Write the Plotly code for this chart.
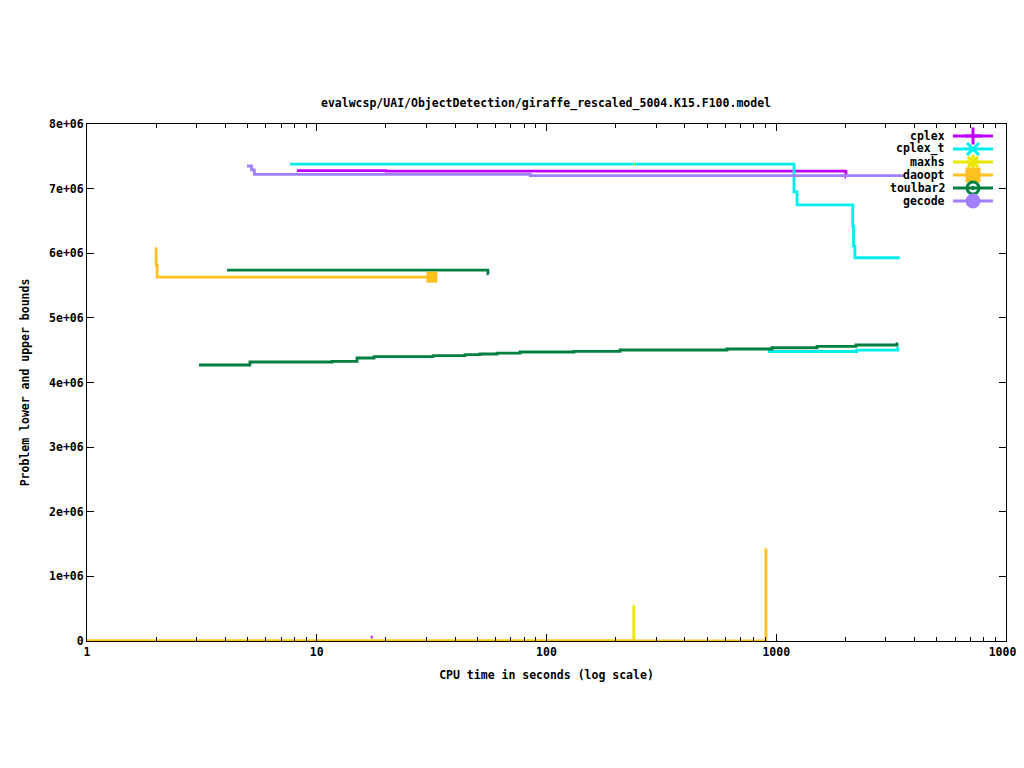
import plotly.graph_objects as go

# CPU time (s) / bound value pairs
cplex_ub_t = [8.2, 20.0, 2010, 2013]
cplex_ub_v = [7.28e6, 7.27e6, 7.18e6, 7.18e6]
cplex_lb_t = [17.2, 17.5]
cplex_lb_v = [6e4, 6e4]

cplex_t_ub_t = [7.65, 1195, 1232, 2153, 2170, 2200, 3450]
cplex_t_ub_v = [7.38e6, 6.95e6, 6.75e6, 6.42e6, 6.11e6, 5.93e6, 5.93e6]
cplex_t_lb_t = [920, 2240, 3380, 3420]
cplex_t_lb_v = [4.48e6, 4.50e6, 4.53e6, 4.53e6]

maxhs_ub_t = [238, 241]
maxhs_ub_v = [7.37e6, 7.37e6]
maxhs_lb_t = [1, 240, 241]
maxhs_lb_v = [0, 5.4e5, 5.4e5]

daoopt_ub_t = [1.98, 2.0, 2.02, 31.7]
daoopt_ub_v = [6.07e6, 5.82e6, 5.63e6, 5.63e6]
daoopt_lb_t = [1, 902, 905]
daoopt_lb_v = [0, 1.42e6, 1.42e6]

toulbar2_ub_t = [4.07, 55.6, 56]
toulbar2_ub_v = [5.74e6, 5.68e6, 5.68e6]
toulbar2_lb_t = [3.07, 5.12, 11.65, 14.97, 17.75, 32.1, 44.2, 51.3, 60.9, 76.7,
                 131.7, 208.9, 610, 958, 1505, 2223, 3354, 3400]
toulbar2_lb_v = [4.271e6, 4.317e6, 4.328e6, 4.379e6, 4.399e6, 4.415e6, 4.430e6,
                 4.441e6, 4.456e6, 4.472e6, 4.483e6, 4.503e6, 4.518e6, 4.538e6,
                 4.560e6, 4.580e6, 4.596e6, 4.596e6]

gecode_ub_t = [4.97, 5.2, 5.35, 85, 3630]
gecode_ub_v = [7.35e6, 7.29e6, 7.22e6, 7.20e6, 7.20e6]

solvers = ["cplex", "cplex_t", "maxhs", "daoopt", "toulbar2", "gecode"]
colors = ["#c000ff", "#00eeee", "#e8e800", "#ffc020", "#008040", "#a080ff"]
symbols = ["cross-thin-open", "x-thin-open", "asterisk-open", "square", "circle-open-dot", "circle"]

y_ticks = [0, 1e6, 2e6, 3e6, 4e6, 5e6, 6e6, 7e6, 8e6]
y_labels = ["0", "1e+06", "2e+06", "3e+06", "4e+06", "5e+06", "6e+06", "7e+06", "8e+06"]
x_ticks = [1, 10, 100, 1000, 10000]
x_labels = ["1", "10", "100", "1000", "10000"]

series = {
    "cplex": [(cplex_ub_t, cplex_ub_v), (cplex_lb_t, cplex_lb_v)],
    "cplex_t": [(cplex_t_ub_t, cplex_t_ub_v), (cplex_t_lb_t, cplex_t_lb_v)],
    "maxhs": [(maxhs_ub_t, maxhs_ub_v), (maxhs_lb_t, maxhs_lb_v)],
    "daoopt": [(daoopt_ub_t, daoopt_ub_v), (daoopt_lb_t, daoopt_lb_v)],
    "toulbar2": [(toulbar2_ub_t, toulbar2_ub_v), (toulbar2_lb_t, toulbar2_lb_v)],
    "gecode": [(gecode_ub_t, gecode_ub_v)],
}

FONT = dict(family="DejaVu Sans Mono", size=11.5, color="black", weight="bold")

# plot area in figure pixels (page has an 8px body margin)
L, R, T, B = 79, 998, 116, 633
PW, PH = R - L, B - T

fig = go.Figure()

for name, col in zip(solvers, colors):
    for xs, ys in series[name]:
        fig.add_trace(go.Scatter(
            x=xs, y=ys, mode="lines", line=dict(color=col, width=2.8, shape="hv"),
            showlegend=False, hoverinfo="skip",
        ))

# marker on the last daoopt upper bound point
fig.add_trace(go.Scatter(
    x=[daoopt_ub_t[-1]], y=[daoopt_ub_v[-1]], mode="markers",
    marker=dict(symbol="square", size=11, color="#ffc020"),
    showlegend=False, hoverinfo="skip",
))

# gnuplot-style key (text then sample) on an overlay axis in 0..1 units
for i, (name, col, sym) in enumerate(zip(solvers, colors, symbols)):
    ky = 1 - (12 + 13 * i) / PH
    fig.add_annotation(x=(947 - 87) / PW, y=ky, xref="paper", yref="paper",
                       text=name, showarrow=False, xanchor="right", yanchor="middle",
                       font=FONT)
    fig.add_trace(go.Scatter(
        x=[(953 - 87) / PW, (993 - 87) / PW], y=[ky, ky], xaxis="x2", yaxis="y2",
        mode="lines", line=dict(color=col, width=2.8),
        showlegend=False, hoverinfo="skip",
    ))
    fig.add_trace(go.Scatter(
        x=[(973 - 87) / PW], y=[ky], xaxis="x2", yaxis="y2", mode="markers",
        marker=dict(symbol=sym, size=12, color=col, line=dict(color=col, width=3)),
        showlegend=False, hoverinfo="skip",
    ))

minor_x = [m * 10 ** k for k in range(4) for m in range(2, 10)]

fig.update_layout(
    width=1024, height=768,
    margin=dict(l=L, r=1024 - R, t=T, b=768 - B),
    paper_bgcolor="white", plot_bgcolor="white",
    font=FONT,
    title=dict(text="evalwcsp/UAI/ObjectDetection/giraffe_rescaled_5004.K15.F100.model",
               x=538 / 1024, xanchor="center", y=1 - 95 / 768, yanchor="middle",
               font=FONT),
    xaxis=dict(type="log", range=[0, 4], tickvals=x_ticks, ticktext=x_labels,
               ticks="inside", ticklen=7, tickcolor="black", showline=True, linecolor="black",
               linewidth=1, mirror="ticks", showgrid=False, zeroline=False, automargin=False,
               minor=dict(tickvals=minor_x, ticks="inside", ticklen=4, tickcolor="black"),
               title=dict(text="CPU time in seconds (log scale)", font=FONT, standoff=13)),
    yaxis=dict(range=[0, 8e6], tickvals=y_ticks, ticktext=y_labels,
               ticks="inside", ticklen=7, tickcolor="black", showline=True, linecolor="black",
               linewidth=1, mirror="ticks", showgrid=False, zeroline=False, automargin=False,
               title=dict(text="Problem lower and upper bounds", font=FONT, standoff=17)),
    xaxis2=dict(overlaying="x", range=[0, 1], visible=False, fixedrange=True),
    yaxis2=dict(overlaying="y", range=[0, 1], visible=False, fixedrange=True),
    showlegend=False,
)

fig.write_html("out.html")
